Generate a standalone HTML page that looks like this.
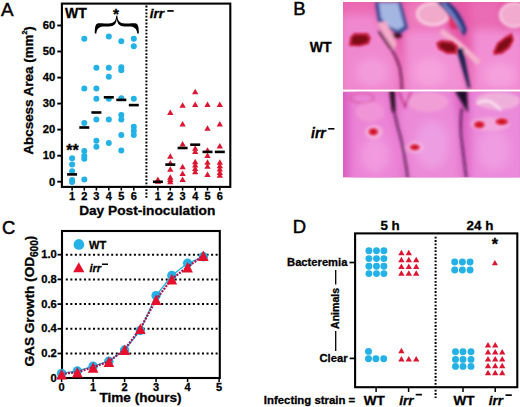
<!DOCTYPE html>
<html><head><meta charset="utf-8"><style>
html,body{margin:0;padding:0;background:#fff;}
body{width:520px;height:407px;overflow:hidden;}
svg{display:block;font-family:"Liberation Sans", sans-serif;}
text{stroke:#000;stroke-width:0.3px;}
</style></head><body>
<svg width="520" height="407" viewBox="0 0 520 407" font-family='"Liberation Sans", sans-serif'>
<text x="1.0" y="15.8" font-size="18.8" font-weight="normal" font-style="normal" text-anchor="start" style="stroke-width:0.45px">A</text>
<rect x="61.9" y="3.6" width="168.4" height="183.3" fill="none" stroke="#000" stroke-width="2.1"/>
<line x1="57.3" y1="181.7" x2="62" y2="181.7" stroke="#000" stroke-width="1.9"/>
<text x="55.3" y="185.5" font-size="11.2" font-weight="bold" font-style="normal" text-anchor="end" >0</text>
<line x1="57.3" y1="155.7" x2="62" y2="155.7" stroke="#000" stroke-width="1.9"/>
<text x="55.3" y="159.47" font-size="11.2" font-weight="bold" font-style="normal" text-anchor="end" >10</text>
<line x1="57.3" y1="129.6" x2="62" y2="129.6" stroke="#000" stroke-width="1.9"/>
<text x="55.3" y="133.44" font-size="11.2" font-weight="bold" font-style="normal" text-anchor="end" >20</text>
<line x1="57.3" y1="103.6" x2="62" y2="103.6" stroke="#000" stroke-width="1.9"/>
<text x="55.3" y="107.40999999999998" font-size="11.2" font-weight="bold" font-style="normal" text-anchor="end" >30</text>
<line x1="57.3" y1="77.6" x2="62" y2="77.6" stroke="#000" stroke-width="1.9"/>
<text x="55.3" y="81.37999999999998" font-size="11.2" font-weight="bold" font-style="normal" text-anchor="end" >40</text>
<line x1="57.3" y1="51.5" x2="62" y2="51.5" stroke="#000" stroke-width="1.9"/>
<text x="55.3" y="55.34999999999998" font-size="11.2" font-weight="bold" font-style="normal" text-anchor="end" >50</text>
<line x1="57.3" y1="25.5" x2="62" y2="25.5" stroke="#000" stroke-width="1.9"/>
<text x="55.3" y="29.319999999999983" font-size="11.2" font-weight="bold" font-style="normal" text-anchor="end" >60</text>
<line x1="72.1" y1="187.5" x2="72.1" y2="190.5" stroke="#000" stroke-width="1.6"/>
<text x="72.1" y="200.3" font-size="11" font-weight="bold" font-style="normal" text-anchor="middle" >1</text>
<line x1="84.3" y1="187.5" x2="84.3" y2="190.5" stroke="#000" stroke-width="1.6"/>
<text x="84.3" y="200.3" font-size="11" font-weight="bold" font-style="normal" text-anchor="middle" >2</text>
<line x1="96.4" y1="187.5" x2="96.4" y2="190.5" stroke="#000" stroke-width="1.6"/>
<text x="96.4" y="200.3" font-size="11" font-weight="bold" font-style="normal" text-anchor="middle" >3</text>
<line x1="108.8" y1="187.5" x2="108.8" y2="190.5" stroke="#000" stroke-width="1.6"/>
<text x="108.8" y="200.3" font-size="11" font-weight="bold" font-style="normal" text-anchor="middle" >4</text>
<line x1="121.3" y1="187.5" x2="121.3" y2="190.5" stroke="#000" stroke-width="1.6"/>
<text x="121.3" y="200.3" font-size="11" font-weight="bold" font-style="normal" text-anchor="middle" >5</text>
<line x1="133.8" y1="187.5" x2="133.8" y2="190.5" stroke="#000" stroke-width="1.6"/>
<text x="133.8" y="200.3" font-size="11" font-weight="bold" font-style="normal" text-anchor="middle" >6</text>
<line x1="157.9" y1="187.5" x2="157.9" y2="190.5" stroke="#000" stroke-width="1.6"/>
<text x="157.9" y="200.3" font-size="11" font-weight="bold" font-style="normal" text-anchor="middle" >1</text>
<line x1="170.3" y1="187.5" x2="170.3" y2="190.5" stroke="#000" stroke-width="1.6"/>
<text x="170.3" y="200.3" font-size="11" font-weight="bold" font-style="normal" text-anchor="middle" >2</text>
<line x1="182.6" y1="187.5" x2="182.6" y2="190.5" stroke="#000" stroke-width="1.6"/>
<text x="182.6" y="200.3" font-size="11" font-weight="bold" font-style="normal" text-anchor="middle" >3</text>
<line x1="195.2" y1="187.5" x2="195.2" y2="190.5" stroke="#000" stroke-width="1.6"/>
<text x="195.2" y="200.3" font-size="11" font-weight="bold" font-style="normal" text-anchor="middle" >4</text>
<line x1="207.5" y1="187.5" x2="207.5" y2="190.5" stroke="#000" stroke-width="1.6"/>
<text x="207.5" y="200.3" font-size="11" font-weight="bold" font-style="normal" text-anchor="middle" >5</text>
<line x1="219.8" y1="187.5" x2="219.8" y2="190.5" stroke="#000" stroke-width="1.6"/>
<text x="219.8" y="200.3" font-size="11" font-weight="bold" font-style="normal" text-anchor="middle" >6</text>
<text x="147.2" y="215.3" font-size="13.7" font-weight="bold" font-style="normal" text-anchor="middle" >Day Post-inoculation</text>
<text transform="translate(33.3 90.4) rotate(-90)" font-size="13.4" font-weight="bold" text-anchor="middle">Abcsess Area (mm<tspan font-size="7" dy="-6">2</tspan><tspan dy="6">)</tspan></text>
<line x1="146.4" y1="5.6" x2="146.4" y2="198" stroke="#000" stroke-width="2" stroke-dasharray="1.8 1.6"/>
<text x="65.0" y="17.8" font-size="14" font-weight="bold" font-style="normal" text-anchor="start" >WT</text>
<text x="149.8" y="18.3" font-size="13.6" font-weight="bold" font-style="italic">irr</text>
<rect x="167.3" y="10.1" width="6.4" height="1.7" fill="#000"/>
<text x="116.1" y="19.2" font-size="15.5" font-weight="bold" font-style="normal" text-anchor="middle" >*</text>
<text x="72.6" y="156.2" font-size="16" font-weight="bold" font-style="normal" text-anchor="middle" >**</text>
<path d="M94.80 33.40 C94.60 20.90 97.90 23.40 104.40 23.40 L108.80 23.40 C113.80 23.40 115.90 21.40 116.30 15.60 L117.30 15.60 C117.70 21.40 119.80 23.40 124.80 23.40 L129.20 23.40 C135.70 23.40 139.00 20.90 138.80 33.40 L137.30 33.40 C136.60 27.90 133.70 26.40 129.20 26.40 L124.80 26.40 C119.30 26.40 117.30 23.90 116.80 18.80 C116.30 23.90 114.30 26.40 108.80 26.40 L104.40 26.40 C99.90 26.40 97.00 27.90 96.30 33.40Z" fill="#000"/>
<circle cx="72.1" cy="158.2" r="3.0" fill="#23b1e6"/>
<circle cx="72.1" cy="164.4" r="3.0" fill="#23b1e6"/>
<circle cx="72.1" cy="171.3" r="3.0" fill="#23b1e6"/>
<circle cx="72.1" cy="179.9" r="3.0" fill="#23b1e6"/>
<circle cx="72.1" cy="182.0" r="3.0" fill="#23b1e6"/>
<circle cx="84.3" cy="38.8" r="3.0" fill="#23b1e6"/>
<circle cx="84.3" cy="88.4" r="3.0" fill="#23b1e6"/>
<circle cx="84.3" cy="123.0" r="3.0" fill="#23b1e6"/>
<circle cx="84.3" cy="151.0" r="3.0" fill="#23b1e6"/>
<circle cx="84.3" cy="156.1" r="3.0" fill="#23b1e6"/>
<circle cx="84.3" cy="158.7" r="3.0" fill="#23b1e6"/>
<circle cx="84.3" cy="179.4" r="3.0" fill="#23b1e6"/>
<circle cx="96.4" cy="67.7" r="3.0" fill="#23b1e6"/>
<circle cx="96.4" cy="88.4" r="3.0" fill="#23b1e6"/>
<circle cx="96.4" cy="98.7" r="3.0" fill="#23b1e6"/>
<circle cx="96.4" cy="119.4" r="3.0" fill="#23b1e6"/>
<circle cx="96.4" cy="140.7" r="3.0" fill="#23b1e6"/>
<circle cx="96.4" cy="146.7" r="3.0" fill="#23b1e6"/>
<circle cx="108.8" cy="36.4" r="3.0" fill="#23b1e6"/>
<circle cx="108.8" cy="67.7" r="3.0" fill="#23b1e6"/>
<circle cx="108.8" cy="76.7" r="3.0" fill="#23b1e6"/>
<circle cx="108.8" cy="98.7" r="3.0" fill="#23b1e6"/>
<circle cx="108.8" cy="119.4" r="3.0" fill="#23b1e6"/>
<circle cx="108.8" cy="142.9" r="3.0" fill="#23b1e6"/>
<circle cx="121.3" cy="41.3" r="3.0" fill="#23b1e6"/>
<circle cx="121.3" cy="67.2" r="3.0" fill="#23b1e6"/>
<circle cx="121.3" cy="70.3" r="3.0" fill="#23b1e6"/>
<circle cx="121.3" cy="98.2" r="3.0" fill="#23b1e6"/>
<circle cx="121.3" cy="115.0" r="3.0" fill="#23b1e6"/>
<circle cx="121.3" cy="119.4" r="3.0" fill="#23b1e6"/>
<circle cx="121.3" cy="135.1" r="3.0" fill="#23b1e6"/>
<circle cx="121.3" cy="150.6" r="3.0" fill="#23b1e6"/>
<circle cx="133.8" cy="38.8" r="3.0" fill="#23b1e6"/>
<circle cx="133.8" cy="46.2" r="3.0" fill="#23b1e6"/>
<circle cx="133.8" cy="98.7" r="3.0" fill="#23b1e6"/>
<circle cx="133.8" cy="126.8" r="3.0" fill="#23b1e6"/>
<circle cx="133.8" cy="130.7" r="3.0" fill="#23b1e6"/>
<circle cx="133.8" cy="135.1" r="3.0" fill="#23b1e6"/>
<rect x="67.1" y="173.1" width="10" height="2.6" fill="#000"/>
<rect x="79.3" y="126.2" width="10" height="2.6" fill="#000"/>
<rect x="91.4" y="111.2" width="10" height="2.6" fill="#000"/>
<rect x="103.8" y="96.0" width="10" height="2.6" fill="#000"/>
<rect x="116.3" y="98.6" width="10" height="2.6" fill="#000"/>
<rect x="128.8" y="103.8" width="10" height="2.6" fill="#000"/>
<path d="M154.75 182.05L157.90 176.55L161.05 182.05Z" fill="#dc1630"/>
<path d="M154.75 183.75L157.90 178.25L161.05 183.75Z" fill="#dc1630"/>
<path d="M167.15 115.05L170.30 109.55L173.45 115.05Z" fill="#dc1630"/>
<path d="M167.15 158.75L170.30 153.25L173.45 158.75Z" fill="#dc1630"/>
<path d="M167.15 165.45L170.30 159.95L173.45 165.45Z" fill="#dc1630"/>
<path d="M167.15 171.65L170.30 166.15L173.45 171.65Z" fill="#dc1630"/>
<path d="M167.15 179.65L170.30 174.15L173.45 179.65Z" fill="#dc1630"/>
<path d="M167.15 182.05L170.30 176.55L173.45 182.05Z" fill="#dc1630"/>
<path d="M167.15 184.35L170.30 178.85L173.45 184.35Z" fill="#dc1630"/>
<path d="M179.45 107.65L182.60 102.15L185.75 107.65Z" fill="#dc1630"/>
<path d="M179.45 126.55L182.60 121.05L185.75 126.55Z" fill="#dc1630"/>
<path d="M179.45 146.45L182.60 140.95L185.75 146.45Z" fill="#dc1630"/>
<path d="M179.45 169.15L182.60 163.65L185.75 169.15Z" fill="#dc1630"/>
<path d="M179.45 175.95L182.60 170.45L185.75 175.95Z" fill="#dc1630"/>
<path d="M179.45 182.05L182.60 176.55L185.75 182.05Z" fill="#dc1630"/>
<path d="M192.05 94.15L195.20 88.65L198.35 94.15Z" fill="#dc1630"/>
<path d="M192.05 106.95L195.20 101.45L198.35 106.95Z" fill="#dc1630"/>
<path d="M192.05 150.65L195.20 145.15L198.35 150.65Z" fill="#dc1630"/>
<path d="M192.05 153.95L195.20 148.45L198.35 153.95Z" fill="#dc1630"/>
<path d="M192.05 164.15L195.20 158.65L198.35 164.15Z" fill="#dc1630"/>
<path d="M192.05 167.55L195.20 162.05L198.35 167.55Z" fill="#dc1630"/>
<path d="M192.05 170.95L195.20 165.45L198.35 170.95Z" fill="#dc1630"/>
<path d="M192.05 174.25L195.20 168.75L198.35 174.25Z" fill="#dc1630"/>
<path d="M204.35 106.95L207.50 101.45L210.65 106.95Z" fill="#dc1630"/>
<path d="M204.35 130.65L207.50 125.15L210.65 130.65Z" fill="#dc1630"/>
<path d="M204.35 152.65L207.50 147.15L210.65 152.65Z" fill="#dc1630"/>
<path d="M204.35 158.05L207.50 152.55L210.65 158.05Z" fill="#dc1630"/>
<path d="M204.35 164.85L207.50 159.35L210.65 164.85Z" fill="#dc1630"/>
<path d="M204.35 168.85L207.50 163.35L210.65 168.85Z" fill="#dc1630"/>
<path d="M204.35 176.95L207.50 171.45L210.65 176.95Z" fill="#dc1630"/>
<path d="M216.65 106.95L219.80 101.45L222.95 106.95Z" fill="#dc1630"/>
<path d="M216.65 126.55L219.80 121.05L222.95 126.55Z" fill="#dc1630"/>
<path d="M216.65 148.55L219.80 143.05L222.95 148.55Z" fill="#dc1630"/>
<path d="M216.65 164.85L219.80 159.35L222.95 164.85Z" fill="#dc1630"/>
<path d="M216.65 168.15L219.80 162.65L222.95 168.15Z" fill="#dc1630"/>
<path d="M216.65 171.55L219.80 166.05L222.95 171.55Z" fill="#dc1630"/>
<path d="M216.65 174.95L219.80 169.45L222.95 174.95Z" fill="#dc1630"/>
<path d="M216.65 177.65L219.80 172.15L222.95 177.65Z" fill="#dc1630"/>
<rect x="152.9" y="180.5" width="10" height="2.6" fill="#000"/>
<rect x="165.3" y="163.3" width="10" height="2.6" fill="#000"/>
<rect x="177.6" y="146.7" width="10" height="2.6" fill="#000"/>
<rect x="190.2" y="143.4" width="10" height="2.6" fill="#000"/>
<rect x="202.5" y="150.6" width="10" height="2.6" fill="#000"/>
<rect x="214.8" y="150.6" width="10" height="2.6" fill="#000"/>
<text x="293.2" y="14.9" font-size="18.5" font-weight="normal" font-style="normal" text-anchor="start" style="stroke-width:0.45px">B</text>
<text x="309.7" y="52.3" font-size="14" font-weight="bold" font-style="normal" text-anchor="start" >WT</text>
<text x="311.0" y="138.3" font-size="14" font-weight="bold" font-style="italic">irr</text>
<rect x="328.2" y="128" width="6.2" height="1.6" fill="#000"/>
<defs><radialGradient id="bU" cx="0.5" cy="0.55" r="0.55"><stop offset="0" stop-color="#f4a0d2" stop-opacity="0.85"/><stop offset="1" stop-color="#f4a0d2" stop-opacity="0"/></radialGradient><radialGradient id="bL" cx="0.5" cy="0.55" r="0.55"><stop offset="0" stop-color="#f0a4e0" stop-opacity="0.85"/><stop offset="1" stop-color="#f0a4e0" stop-opacity="0"/></radialGradient><radialGradient id="wnd" cx="0.5" cy="0.5" r="0.5"><stop offset="0" stop-color="#5a0414"/><stop offset="0.55" stop-color="#8c0a1e"/><stop offset="1" stop-color="#c8204a"/></radialGradient><radialGradient id="wnd2" cx="0.5" cy="0.5" r="0.5"><stop offset="0" stop-color="#b80c1c"/><stop offset="0.6" stop-color="#dc2030"/><stop offset="1" stop-color="#e85080"/></radialGradient><filter id="bl" x="-30%" y="-30%" width="160%" height="160%"><feGaussianBlur stdDeviation="1.6"/></filter><filter id="bl3" x="-30%" y="-30%" width="160%" height="160%"><feGaussianBlur stdDeviation="4"/></filter><filter id="bl2" x="-30%" y="-30%" width="160%" height="160%"><feGaussianBlur stdDeviation="0.8"/></filter><clipPath id="cU"><rect x="343" y="2" width="177" height="87.8"/></clipPath><clipPath id="cL"><rect x="343" y="91.6" width="177" height="86"/></clipPath></defs>
<g clip-path="url(#cU)">
<rect x="343" y="2" width="177" height="88" fill="#e65aa8"/>
<g filter="url(#bl3)">
<path d="M340 14 L376 14 L384 34 L396 50 L400 70 L399 95 L340 95 Z" fill="#f088d0"/>
<path d="M404 30 L445 30 L462 52 L468 95 L404 95 Z" fill="#f290d4"/>
<path d="M472 30 L525 30 L525 95 L472 95 Z" fill="#f28ed4"/>
<path d="M340 0 L376 0 L376 12 L340 12 Z" fill="#ec6cb4"/>
<path d="M406 0 L442 0 L448 28 L406 28 Z" fill="#ee7cbe"/>
<path d="M468 0 L500 0 L500 30 L472 30 Z" fill="#ea6cb4"/>
<ellipse cx="372" cy="72" rx="16" ry="14" fill="#f4a0dc" opacity="0.8"/>
<ellipse cx="430" cy="72" rx="16" ry="14" fill="#f6a6de" opacity="0.85"/>
<ellipse cx="500" cy="75" rx="16" ry="12" fill="#f6a4de" opacity="0.85"/>
</g>
<g filter="url(#bl)">
<path d="M375 2 L401 2 L408 28 L400 34 L390 30 L378 22 Z" fill="#3a4898"/>
<path d="M379 3 L398 3 L404 26 L398 30 L390 27 L381 18 Z" fill="#a4b6e2"/>
<ellipse cx="397" cy="35.5" rx="5" ry="3" fill="#4a0820"/>
<path d="M377 23 L386 21 L397 44 L393 50 Z" fill="#f2aac8"/>
<path d="M379 31 Q385 40 391 48.5" stroke="#2a0616" stroke-width="2.2" fill="none"/>
<path d="M391 48 Q397 58 400 68 Q402 80 402 90" stroke="#5e1044" stroke-width="2" fill="none"/>
<ellipse cx="433" cy="14" rx="16" ry="11" fill="#f2aacc" stroke="#fce6f0" stroke-width="1.6"/>
<ellipse cx="514" cy="15" rx="14" ry="12" fill="#f2aace" stroke="#fce6f0" stroke-width="1.6"/>
<path d="M436 2 L449 2 Q461 12 467 30 L464 36 Q456 24 450 17 Q444 8 436 2 Z" fill="#28307a"/>
<path d="M448 14 L456 22 L458 30 L450 28 Z" fill="#e0306e"/>
<path d="M441 3 L445 3 Q456 14 463 30 L462 32 Q453 18 441 3 Z" fill="#7080c8"/>
<path d="M441 31 Q452 39 460 45 Q470 54 479 63" stroke="#f4b2cc" stroke-width="5.5" fill="none"/>
<path d="M456 48 L463 48 L470.5 88 L468 88 Z" fill="#1a1a4c"/>
</g>
<g filter="url(#bl2)">
<path d="M349 46 L350 37 L354 33 L368 33 L371 38 L369 44 L360 46.5 Z" fill="#c82040"/>
<path d="M351.5 44 L352.5 37.5 L355 35.5 L366 35.5 L368.5 38.5 L366.5 42.5 L359 44.5 Z" fill="#7c0818"/>
<path d="M436 43 L441 40 L452 41 L458 46 L457 54 L447 54 L438 49 Z" fill="#c82040"/>
<path d="M439 44 L443 42.5 L451 43.5 L455.5 47 L454.5 51.5 L447 51.5 L441 48 Z" fill="#7c0818"/>
<path d="M493 52 L497 43 L506 36 L512 33 L514 40 L510 48 L502 54 L494 55 Z" fill="#c82040"/>
<path d="M496 51 L499 44 L506.5 38.5 L511 36.5 L511.5 40.5 L508 46.5 L501 51.5 L496 52.5 Z" fill="#7c0818"/>
</g>
</g>
<rect x="343" y="89.6" width="177" height="2" fill="#fff"/>
<g clip-path="url(#cL)">
<rect x="343" y="91.6" width="177" height="86" fill="#da5cbe"/>
<g filter="url(#bl3)">
<path d="M349 88 L389 88 L394 122 L402 150 L404 185 L349 185 Z" fill="#ec84d6"/>
<path d="M398 88 L454 88 L460 130 L463 185 L409 185 L404 150 L398 120 Z" fill="#ec8ad8"/>
<path d="M469 88 L525 88 L525 185 L469 185 Z" fill="#ec8ada"/>
<ellipse cx="375" cy="155" rx="14" ry="18" fill="#f2a0e2" opacity="0.8"/>
<ellipse cx="432" cy="145" rx="16" ry="24" fill="#eea2e6" opacity="0.8"/>
<ellipse cx="494" cy="150" rx="16" ry="20" fill="#f0a0e4" opacity="0.8"/>
</g>
<g filter="url(#bl)">
<ellipse cx="362" cy="98" rx="12" ry="5" fill="none" stroke="#d04890" stroke-width="1.5" opacity="0.7"/>
<path d="M399 92 L405 107 L411 92" stroke="#c63888" stroke-width="2" fill="none"/>
<path d="M389.5 91 L394.5 91 L395.5 112 L392 112 Z" fill="#1e0818"/>
<path d="M393 108 Q396 118 398 128 Q403 145 405 160 Q407 170 407.7 178" stroke="#3a0c38" stroke-width="1.7" fill="none"/>
<path d="M455 91 L467 91 L468 113 Z" fill="#1c0c26"/>
<path d="M462 108 Q460 120 461 135 Q464 160 466.3 178" stroke="#3a0c40" stroke-width="1.7" fill="none"/>
<ellipse cx="498" cy="101" rx="22" ry="9" fill="#f0b4dc" opacity="0.9"/>
<ellipse cx="428" cy="102" rx="20" ry="10" fill="#f2a4d6" opacity="0.8"/>
<ellipse cx="370" cy="112" rx="14" ry="10" fill="#f49ad6" opacity="0.7"/>
<path d="M476.7 104 Q488 95 501 110.5" stroke="#fff4f8" stroke-width="1.8" fill="none"/>
<ellipse cx="374" cy="132" rx="9" ry="7" fill="#f8c4e0" opacity="0.6"/>
<ellipse cx="415" cy="147.5" rx="9" ry="6" fill="#f8c4e0" opacity="0.5"/>
<ellipse cx="490" cy="124" rx="20" ry="7" fill="#f8c4e0" opacity="0.5"/>

</g>
<g filter="url(#bl2)">
<ellipse cx="373.3" cy="131.8" rx="5" ry="3.9" fill="url(#wnd2)"/>
<ellipse cx="414.8" cy="147.3" rx="5.2" ry="3.2" fill="url(#wnd2)"/>
<ellipse cx="479.3" cy="124.7" rx="5.6" ry="3.8" fill="url(#wnd2)"/>
<ellipse cx="501.8" cy="121.7" rx="6.6" ry="3.6" fill="url(#wnd2)"/>
</g>
</g>
<text x="2.0" y="233.6" font-size="18.4" font-weight="normal" font-style="normal" text-anchor="start" style="stroke-width:0.45px">C</text>
<line x1="65.8" y1="353.5" x2="219" y2="353.5" stroke="#000" stroke-width="2" stroke-dasharray="2 2.54"/>
<line x1="65.8" y1="328.8" x2="219" y2="328.8" stroke="#000" stroke-width="2" stroke-dasharray="2 2.54"/>
<line x1="65.8" y1="304.1" x2="219" y2="304.1" stroke="#000" stroke-width="2" stroke-dasharray="2 2.54"/>
<line x1="65.8" y1="279.4" x2="219" y2="279.4" stroke="#000" stroke-width="2" stroke-dasharray="2 2.54"/>
<line x1="65.8" y1="254.7" x2="219" y2="254.7" stroke="#000" stroke-width="2" stroke-dasharray="2 2.54"/>
<rect x="62" y="231" width="157.8" height="147" fill="none" stroke="#000" stroke-width="2.1"/>
<line x1="57.5" y1="378.2" x2="62" y2="378.2" stroke="#000" stroke-width="1.8"/>
<text x="56.8" y="381.59999999999997" font-size="11.2" font-weight="bold" font-style="normal" text-anchor="end" >0</text>
<line x1="57.5" y1="353.5" x2="62" y2="353.5" stroke="#000" stroke-width="1.8"/>
<text x="56.8" y="356.9" font-size="11.2" font-weight="bold" font-style="normal" text-anchor="end" >0.2</text>
<line x1="57.5" y1="328.8" x2="62" y2="328.8" stroke="#000" stroke-width="1.8"/>
<text x="56.8" y="332.19999999999993" font-size="11.2" font-weight="bold" font-style="normal" text-anchor="end" >0.4</text>
<line x1="57.5" y1="304.1" x2="62" y2="304.1" stroke="#000" stroke-width="1.8"/>
<text x="56.8" y="307.49999999999994" font-size="11.2" font-weight="bold" font-style="normal" text-anchor="end" >0.6</text>
<line x1="57.5" y1="279.4" x2="62" y2="279.4" stroke="#000" stroke-width="1.8"/>
<text x="56.8" y="282.79999999999995" font-size="11.2" font-weight="bold" font-style="normal" text-anchor="end" >0.8</text>
<line x1="57.5" y1="254.7" x2="62" y2="254.7" stroke="#000" stroke-width="1.8"/>
<text x="56.8" y="258.09999999999997" font-size="11.2" font-weight="bold" font-style="normal" text-anchor="end" >1.0</text>
<line x1="61.6" y1="378" x2="61.6" y2="382" stroke="#000" stroke-width="1.5"/>
<text x="61.6" y="390.6" font-size="11" font-weight="bold" font-style="normal" text-anchor="middle" >0</text>
<line x1="93.1" y1="378" x2="93.1" y2="382" stroke="#000" stroke-width="1.5"/>
<text x="93.1" y="390.6" font-size="11" font-weight="bold" font-style="normal" text-anchor="middle" >1</text>
<line x1="124.6" y1="378" x2="124.6" y2="382" stroke="#000" stroke-width="1.5"/>
<text x="124.6" y="390.6" font-size="11" font-weight="bold" font-style="normal" text-anchor="middle" >2</text>
<line x1="156.1" y1="378" x2="156.1" y2="382" stroke="#000" stroke-width="1.5"/>
<text x="156.1" y="390.6" font-size="11" font-weight="bold" font-style="normal" text-anchor="middle" >3</text>
<line x1="187.6" y1="378" x2="187.6" y2="382" stroke="#000" stroke-width="1.5"/>
<text x="187.6" y="390.6" font-size="11" font-weight="bold" font-style="normal" text-anchor="middle" >4</text>
<line x1="219.1" y1="378" x2="219.1" y2="382" stroke="#000" stroke-width="1.5"/>
<text x="219.1" y="390.6" font-size="11" font-weight="bold" font-style="normal" text-anchor="middle" >5</text>
<text x="140.5" y="401.6" font-size="13.6" font-weight="bold" font-style="normal" text-anchor="middle" >Time (hours)</text>
<text transform="translate(34.3 301.1) rotate(-90)" font-size="13.6" font-weight="bold" text-anchor="middle">GAS Growth (OD<tspan font-size="10" dy="3.6">600</tspan><tspan dy="-3.6">)</tspan></text>
<circle cx="78.9" cy="244.4" r="5.3" fill="#23b1e6"/>
<text x="89" y="248.7" font-size="11" font-weight="bold" font-style="normal" text-anchor="start" >WT</text>
<path d="M73.20 272.20L78.80 262.20L84.40 272.20Z" fill="#e5102e"/>
<text x="89.5" y="272.3" font-size="11" font-weight="bold" font-style="italic">irr</text>
<rect x="102" y="263.5" width="6" height="1.5" fill="#000"/>
<polyline points="61.6,373.4 77.3,371.0 93.1,366.2 108.8,361.2 124.6,350.0 140.3,330.5 156.1,295.6 171.8,275.5 187.6,263.3 203.3,256.8" fill="none" stroke="#23b1e6" stroke-width="1.3"/>
<circle cx="61.6" cy="373.4" r="4.7" fill="#23b1e6"/>
<circle cx="77.3" cy="371.0" r="4.7" fill="#23b1e6"/>
<circle cx="93.1" cy="366.2" r="4.7" fill="#23b1e6"/>
<circle cx="108.8" cy="361.2" r="4.7" fill="#23b1e6"/>
<circle cx="124.6" cy="350.0" r="4.7" fill="#23b1e6"/>
<circle cx="140.3" cy="330.5" r="4.7" fill="#23b1e6"/>
<circle cx="156.1" cy="295.6" r="4.7" fill="#23b1e6"/>
<circle cx="171.8" cy="275.5" r="4.7" fill="#23b1e6"/>
<circle cx="187.6" cy="263.3" r="4.7" fill="#23b1e6"/>
<circle cx="203.3" cy="256.8" r="4.7" fill="#23b1e6"/>
<polyline points="61.6,374.0 77.3,372.1 93.1,367.3 108.8,361.5 124.6,349.6 140.3,328.6 156.1,299.5 171.8,278.9 187.6,267.0 203.3,255.5" fill="none" stroke="#a01850" stroke-width="2.3" stroke-dasharray="2 1.2"/>
<path d="M56.30 379.50L61.60 368.90L66.90 379.50Z" fill="#e5102e"/>
<path d="M72.05 377.60L77.35 367.00L82.65 377.60Z" fill="#e5102e"/>
<path d="M87.80 372.80L93.10 362.20L98.40 372.80Z" fill="#e5102e"/>
<path d="M103.55 367.00L108.85 356.40L114.15 367.00Z" fill="#e5102e"/>
<path d="M119.30 355.10L124.60 344.50L129.90 355.10Z" fill="#e5102e"/>
<path d="M135.05 334.10L140.35 323.50L145.65 334.10Z" fill="#e5102e"/>
<path d="M150.80 305.00L156.10 294.40L161.40 305.00Z" fill="#e5102e"/>
<path d="M166.55 284.40L171.85 273.80L177.15 284.40Z" fill="#e5102e"/>
<path d="M182.30 272.50L187.60 261.90L192.90 272.50Z" fill="#e5102e"/>
<path d="M198.05 261.00L203.35 250.40L208.65 261.00Z" fill="#e5102e"/>
<text x="292.8" y="232.8" font-size="18.5" font-weight="normal" font-style="normal" text-anchor="start" style="stroke-width:0.45px">D</text>
<rect x="355.1" y="233.4" width="162.2" height="153.8" fill="none" stroke="#000" stroke-width="2.1"/>
<text x="390.1" y="229.8" font-size="13.4" font-weight="bold" font-style="normal" text-anchor="middle" >5 h</text>
<text x="480" y="229.8" font-size="13.4" font-weight="bold" font-style="normal" text-anchor="middle" >24 h</text>
<line x1="435.6" y1="236.7" x2="435.6" y2="398" stroke="#000" stroke-width="2" stroke-dasharray="1.8 1.6"/>
<text x="347.4" y="266.1" font-size="11.2" font-weight="bold" font-style="normal" text-anchor="end" >Bacteremia</text>
<text x="347.5" y="362.2" font-size="11.2" font-weight="bold" font-style="normal" text-anchor="end" >Clear</text>
<line x1="349.4" y1="262.5" x2="355" y2="262.5" stroke="#000" stroke-width="1.7"/>
<line x1="349.6" y1="358.4" x2="355" y2="358.4" stroke="#000" stroke-width="1.7"/>
<line x1="335.7" y1="270" x2="335.7" y2="284.4" stroke="#000" stroke-width="1.3"/>
<line x1="335.7" y1="330.9" x2="335.7" y2="351" stroke="#000" stroke-width="1.3"/>
<text transform="translate(338.8 308.4) rotate(-90)" font-size="10.6" font-weight="bold" text-anchor="middle">Animals</text>
<line x1="376.1" y1="387.5" x2="376.1" y2="392" stroke="#000" stroke-width="1.5"/>
<line x1="408.6" y1="387.5" x2="408.6" y2="392" stroke="#000" stroke-width="1.5"/>
<line x1="463" y1="387.5" x2="463" y2="392" stroke="#000" stroke-width="1.5"/>
<line x1="495.2" y1="387.5" x2="495.2" y2="392" stroke="#000" stroke-width="1.5"/>
<text x="374.3" y="404.7" font-size="13.5" font-weight="bold" font-style="normal" text-anchor="middle" >WT</text>
<text x="399.3" y="404.7" font-size="13.5" font-weight="bold" font-style="italic">irr</text>
<rect x="415.7" y="393.8" width="6.2" height="1.7" fill="#000"/>
<text x="464.1" y="404.7" font-size="13.5" font-weight="bold" font-style="normal" text-anchor="middle" >WT</text>
<text x="488.8" y="404.7" font-size="13.5" font-weight="bold" font-style="italic">irr</text>
<rect x="505.5" y="394.3" width="6.3" height="1.7" fill="#000"/>
<text x="263.8" y="403.8" font-size="11.4" font-weight="bold" font-style="normal" text-anchor="start" >Infecting strain =</text>
<text x="494.9" y="249.5" font-size="16" font-weight="bold" font-style="normal" text-anchor="middle" >*</text>
<circle cx="368.9" cy="250.8" r="3.45" fill="#23b1e6"/>
<circle cx="368.9" cy="258.6" r="3.45" fill="#23b1e6"/>
<circle cx="368.9" cy="266.2" r="3.45" fill="#23b1e6"/>
<circle cx="368.9" cy="273.6" r="3.45" fill="#23b1e6"/>
<circle cx="376.5" cy="250.8" r="3.45" fill="#23b1e6"/>
<circle cx="376.5" cy="258.6" r="3.45" fill="#23b1e6"/>
<circle cx="376.5" cy="266.2" r="3.45" fill="#23b1e6"/>
<circle cx="376.5" cy="273.6" r="3.45" fill="#23b1e6"/>
<circle cx="383.9" cy="250.8" r="3.45" fill="#23b1e6"/>
<circle cx="383.9" cy="258.6" r="3.45" fill="#23b1e6"/>
<circle cx="383.9" cy="266.2" r="3.45" fill="#23b1e6"/>
<circle cx="383.9" cy="273.6" r="3.45" fill="#23b1e6"/>
<path d="M398.25 255.15L401.40 249.65L404.55 255.15Z" fill="#dc1630"/>
<path d="M405.65 255.15L408.80 249.65L411.95 255.15Z" fill="#dc1630"/>
<path d="M398.25 262.25L401.40 256.75L404.55 262.25Z" fill="#dc1630"/>
<path d="M405.65 262.25L408.80 256.75L411.95 262.25Z" fill="#dc1630"/>
<path d="M413.05 262.25L416.20 256.75L419.35 262.25Z" fill="#dc1630"/>
<path d="M398.25 268.95L401.40 263.45L404.55 268.95Z" fill="#dc1630"/>
<path d="M405.65 268.95L408.80 263.45L411.95 268.95Z" fill="#dc1630"/>
<path d="M413.05 268.95L416.20 263.45L419.35 268.95Z" fill="#dc1630"/>
<path d="M398.25 275.75L401.40 270.25L404.55 275.75Z" fill="#dc1630"/>
<path d="M405.65 275.75L408.80 270.25L411.95 275.75Z" fill="#dc1630"/>
<path d="M413.05 275.75L416.20 270.25L419.35 275.75Z" fill="#dc1630"/>
<circle cx="368.5" cy="351.4" r="3.45" fill="#23b1e6"/>
<circle cx="368.5" cy="358.8" r="3.45" fill="#23b1e6"/>
<circle cx="375.9" cy="358.8" r="3.45" fill="#23b1e6"/>
<circle cx="383.7" cy="358.8" r="3.45" fill="#23b1e6"/>
<path d="M398.25 353.25L401.40 347.75L404.55 353.25Z" fill="#dc1630"/>
<path d="M398.25 361.55L401.40 356.05L404.55 361.55Z" fill="#dc1630"/>
<path d="M405.65 361.55L408.80 356.05L411.95 361.55Z" fill="#dc1630"/>
<path d="M413.05 361.55L416.20 356.05L419.35 361.55Z" fill="#dc1630"/>
<circle cx="454.7" cy="262.0" r="3.45" fill="#23b1e6"/>
<circle cx="454.7" cy="270.0" r="3.45" fill="#23b1e6"/>
<circle cx="462.4" cy="262.0" r="3.45" fill="#23b1e6"/>
<circle cx="462.4" cy="270.0" r="3.45" fill="#23b1e6"/>
<circle cx="470.1" cy="262.0" r="3.45" fill="#23b1e6"/>
<circle cx="470.1" cy="270.0" r="3.45" fill="#23b1e6"/>
<path d="M491.90 265.20L494.90 260.00L497.90 265.20Z" fill="#dc1630"/>
<circle cx="455.5" cy="351.8" r="3.45" fill="#23b1e6"/>
<circle cx="455.5" cy="359.4" r="3.45" fill="#23b1e6"/>
<circle cx="455.5" cy="366.4" r="3.45" fill="#23b1e6"/>
<circle cx="463.0" cy="351.8" r="3.45" fill="#23b1e6"/>
<circle cx="463.0" cy="359.4" r="3.45" fill="#23b1e6"/>
<circle cx="463.0" cy="366.4" r="3.45" fill="#23b1e6"/>
<circle cx="471.0" cy="351.8" r="3.45" fill="#23b1e6"/>
<circle cx="471.0" cy="359.4" r="3.45" fill="#23b1e6"/>
<circle cx="471.0" cy="366.4" r="3.45" fill="#23b1e6"/>
<path d="M484.85 347.55L488.00 342.05L491.15 347.55Z" fill="#dc1630"/>
<path d="M492.05 347.55L495.20 342.05L498.35 347.55Z" fill="#dc1630"/>
<path d="M484.85 354.55L488.00 349.05L491.15 354.55Z" fill="#dc1630"/>
<path d="M492.05 354.55L495.20 349.05L498.35 354.55Z" fill="#dc1630"/>
<path d="M499.05 354.55L502.20 349.05L505.35 354.55Z" fill="#dc1630"/>
<path d="M484.85 361.55L488.00 356.05L491.15 361.55Z" fill="#dc1630"/>
<path d="M492.05 361.55L495.20 356.05L498.35 361.55Z" fill="#dc1630"/>
<path d="M499.05 361.55L502.20 356.05L505.35 361.55Z" fill="#dc1630"/>
<path d="M484.85 368.35L488.00 362.85L491.15 368.35Z" fill="#dc1630"/>
<path d="M492.05 368.35L495.20 362.85L498.35 368.35Z" fill="#dc1630"/>
<path d="M499.05 368.35L502.20 362.85L505.35 368.35Z" fill="#dc1630"/>
<path d="M484.85 375.35L488.00 369.85L491.15 375.35Z" fill="#dc1630"/>
<path d="M492.05 375.35L495.20 369.85L498.35 375.35Z" fill="#dc1630"/>
<path d="M499.05 375.35L502.20 369.85L505.35 375.35Z" fill="#dc1630"/>
</svg>
</body></html>
